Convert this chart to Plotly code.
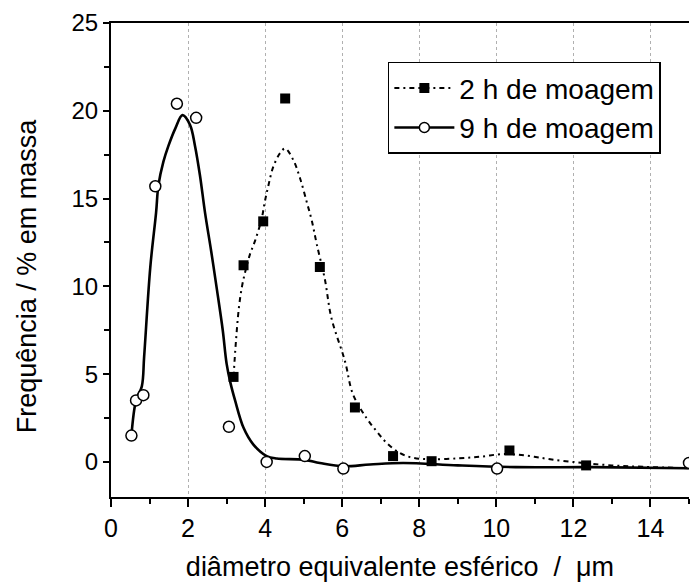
import plotly.graph_objects as go

# measured points, 9 h of milling (open circles)
x_9h = [0.53, 0.65, 0.84, 1.15, 1.71, 2.21, 3.06, 4.04, 5.03, 6.03, 10.02, 15.0]
y_9h = [1.5, 3.5, 3.8, 15.7, 20.4, 19.6, 2.0, 0.0, 0.33, -0.38, -0.38, -0.06]

# measured points, 2 h of milling (filled squares)
x_2h = [3.18, 3.44, 3.95, 4.52, 5.42, 6.33, 7.32, 8.32, 10.34, 12.33]
y_2h = [4.84, 11.2, 13.7, 20.7, 11.1, 3.1, 0.33, 0.04, 0.65, -0.2]

# fitted curve, 9 h
fx_9h = [0.53, 0.65, 0.80, 0.86, 1.02, 1.17, 1.23, 1.36, 1.49, 1.67, 1.855, 2.05, 2.18, 2.31, 2.44,
         2.6, 2.75, 2.9, 3.0, 3.1, 3.22, 3.44, 3.69, 4.04, 4.3, 5.0, 5.42, 6.03, 6.72, 7.58, 9.0,
         10.5, 12.5, 15.0]
fy_9h = [1.5, 3.5, 4.3, 6.0, 11.1, 14.2, 15.75, 17.1, 18.0, 19.0, 19.75, 19.2, 18.0, 16.3, 14.2,
         12.0, 9.8, 7.5, 5.6, 4.5, 3.5, 1.94, 1.0, 0.33, 0.19, 0.13, -0.06, -0.25, -0.15, -0.06, -0.2,
         -0.3, -0.3, -0.36]

# fitted curve, 2 h
fx_2h = [3.18, 3.24, 3.32, 3.4, 3.48, 3.61, 3.74, 3.91, 3.99, 4.08, 4.21, 4.39, 4.52, 4.73, 4.90,
         5.08, 5.21, 5.34, 5.55, 5.72, 6.07, 6.28, 6.63, 6.89, 7.15, 7.49, 7.84, 8.3, 9.0, 9.6,
         10.2, 10.8, 11.4, 12.2, 13.0, 13.8, 15.0]
fy_2h = [4.84, 6.8, 8.8, 10.0, 10.8, 11.85, 12.6, 13.85, 14.8, 15.7, 16.8, 17.6, 17.85, 17.2, 16.2,
         14.8, 13.75, 12.4, 10.4, 8.2, 5.75, 3.85, 2.5, 1.75, 1.09, 0.51, 0.23, 0.15, 0.2, 0.3,
         0.45, 0.35, 0.15, -0.05, -0.2, -0.28, -0.36]

names = ["2 h de moagem", "9 h de moagem"]
x_title = "diâmetro equivalente esférico  /  μm"
y_title = "Frequência / % em massa"

FONT = "Liberation Sans, Arial, sans-serif"
dash_2h = "5px,4px,2px,4px"

fig = go.Figure()

fig.add_trace(go.Scatter(x=fx_9h, y=fy_9h, mode="lines", line=dict(color="black", width=2.6, shape="spline"),
                         showlegend=False, hoverinfo="skip"))
fig.add_trace(go.Scatter(x=fx_2h, y=fy_2h, mode="lines",
                         line=dict(color="black", width=2, dash=dash_2h, shape="spline"),
                         showlegend=False, hoverinfo="skip"))
fig.add_trace(go.Scatter(x=x_2h, y=y_2h, mode="markers",
                         marker=dict(symbol="square", size=10, color="black"), showlegend=False))
fig.add_trace(go.Scatter(x=x_9h, y=y_9h, mode="markers",
                         marker=dict(symbol="circle", size=11, color="white", line=dict(color="black", width=1.5)),
                         showlegend=False))

# legend entries
fig.add_trace(go.Scatter(x=[None], y=[None], mode="lines+markers", name=names[0],
                         line=dict(color="black", width=2, dash=dash_2h),
                         marker=dict(symbol="square", size=10, color="black")))
fig.add_trace(go.Scatter(x=[None], y=[None], mode="lines+markers", name=names[1],
                         line=dict(color="black", width=2.4),
                         marker=dict(symbol="circle", size=10, color="white", line=dict(color="black", width=1.5))))

fig.update_layout(
    width=691, height=588,
    margin=dict(l=111, r=2, t=23, b=91),
    paper_bgcolor="white", plot_bgcolor="white",
    font=dict(family=FONT, color="black", size=24),
    legend=dict(x=0.479, y=0.918, xanchor="left", yanchor="top",
                bordercolor="black", borderwidth=1.5, bgcolor="white",
                font=dict(family=FONT, size=28, color="black"),
                itemwidth=60, tracegroupgap=0),
)

fig.update_xaxes(
    range=[0, 15], dtick=2, tick0=0,
    showline=True, linecolor="black", linewidth=2, mirror=True,
    ticks="outside", ticklen=8, tickwidth=1.5, tickcolor="black",
    minor=dict(dtick=1, ticks="outside", ticklen=5, tickwidth=1.5, tickcolor="black", showgrid=False),
    showgrid=True, gridcolor="#b0b0b0", griddash="dot", gridwidth=1,
    zeroline=False,
    tickfont=dict(family=FONT, size=25),
    title=dict(text=x_title, font=dict(family=FONT, size=27), standoff=16),
)
fig.update_yaxes(
    range=[-2, 25], dtick=5, tick0=0,
    showline=True, linecolor="black", linewidth=2, mirror=False,
    ticks="outside", ticklen=6, tickwidth=1.5, tickcolor="black",
    minor=dict(dtick=2.5, ticks="outside", ticklen=5, tickwidth=1.5, tickcolor="black", showgrid=False),
    showgrid=False, zeroline=False,
    tickfont=dict(family=FONT, size=24),
)

fig.add_annotation(text=y_title, textangle=-90, xref="paper", yref="paper",
                   x=-0.145, y=0.466, xanchor="center", yanchor="middle", showarrow=False,
                   font=dict(family=FONT, size=27, color="black"))

fig.write_html("out.html")
